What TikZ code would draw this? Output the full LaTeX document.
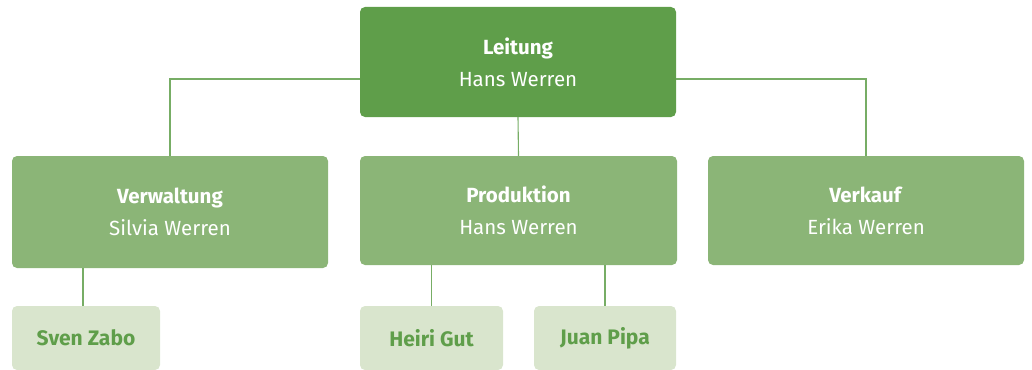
\documentclass[tikz,border=0pt]{standalone}
\usepackage{fontspec}
\setmainfont{Fira Sans}
\begin{document}
\definecolor{dgreen}{HTML}{5F9E4A}
\definecolor{mgreen}{HTML}{8BB577}
\definecolor{lgreen}{HTML}{D9E5CD}
\begin{tikzpicture}[x=1pt,y=-1pt,
  box/.style={rectangle,rounded corners=5pt,inner sep=0pt,text=white,align=center,
    font=\fontsize{20.5}{32}\selectfont},
  topbox/.style={box,fill=dgreen},
  unitbox/.style={box,fill=mgreen},
  staffbox/.style={rectangle,rounded corners=5pt,inner sep=0pt,fill=lgreen,text=dgreen,
    font=\fontsize{21}{24}\selectfont\bfseries},
  link/.style={draw=dgreen!85,line width=1.1pt}]
\useasboundingbox (0,0) rectangle (1032,369);
\begin{scope}
\clip (0,0) rectangle (1032,369);
% top level
\node[topbox,minimum width=316pt,minimum height=110pt] (lead) at (518,62)
  {\textbf{Leitung}\\Hans Werren};
% departments
\node[unitbox,minimum width=316pt,minimum height=112pt] (admin) at (170,212)
  {\textbf{Verwaltung}\\Silvia Werren};
\node[unitbox,minimum width=317pt,minimum height=109pt] (prod) at (518.5,210.5)
  {\textbf{Produktion}\\Hans Werren};
\node[unitbox,minimum width=316pt,minimum height=109pt] (sales) at (866,210.5)
  {\textbf{Verkauf}\\Erika Werren};
% staff
\node[staffbox,minimum width=148pt,minimum height=64pt] (sven) at (86,338) {Sven Zabo};
\node[staffbox,minimum width=143pt,minimum height=64pt] (heiri) at (431.5,338) {Heiri Gut};
\node[staffbox,minimum width=142pt,minimum height=64pt] (juan) at (605,338) {Juan Pipa};
\end{scope}
% connectors
\draw[link] (lead.west) ++(0,17) -| (admin.north);
\draw[link] (lead.east) ++(0,17) -| (sales.north);
\draw[link] (lead.south) -- (prod.north);
\draw[link] (admin.south -| sven.north) ++(-3,0) -- ++(0,38);
\draw[link] (prod.south -| heiri.north) -- (heiri.north);
\draw[link] (prod.south -| juan.north) -- (juan.north);
\end{tikzpicture}
\end{document}
